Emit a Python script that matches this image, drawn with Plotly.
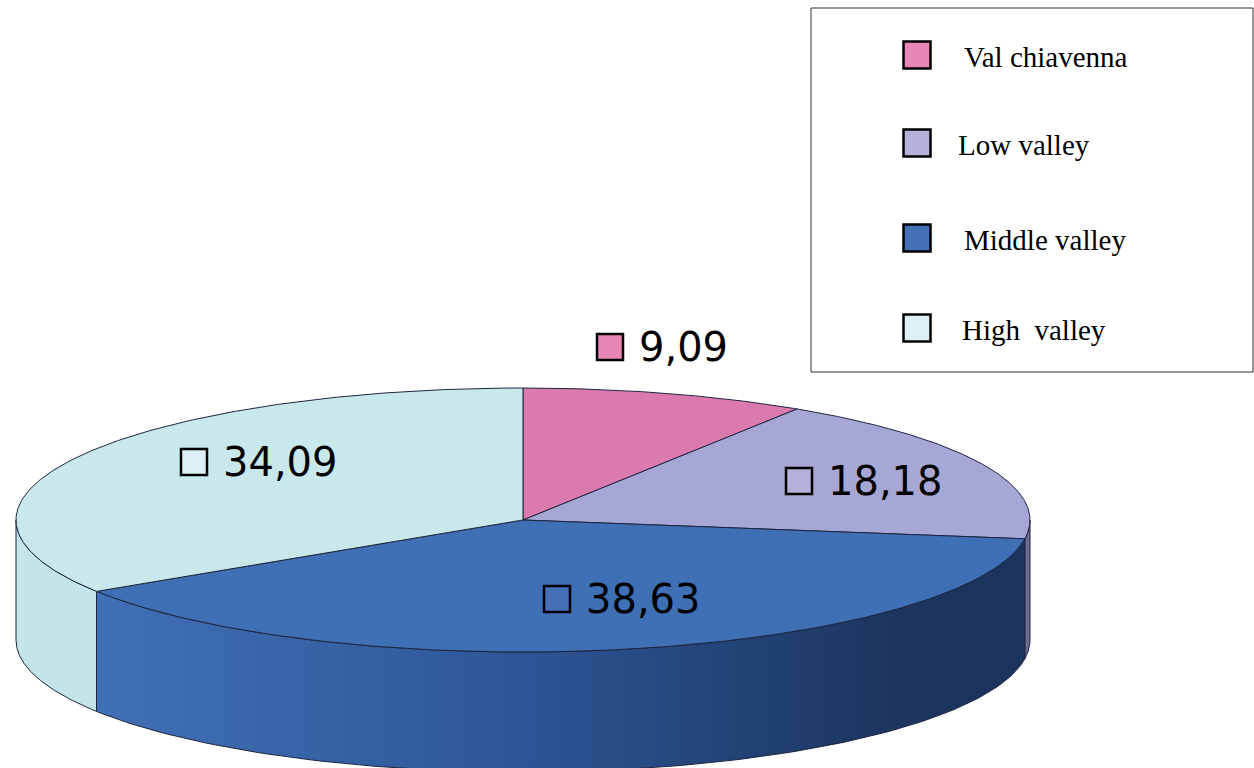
import numpy as np
import plotly.graph_objects as go

# ---- data ----
regions = ["Val chiavenna", "Low valley", "Middle valley", "High  valley"]
shares = [9.09, 18.18, 38.63, 34.09]
share_labels = ["9,09", "18,18", "38,63", "34,09"]

# ---- styling ----
top_colors = ["#db7aae", "#a6a7d4", "#3f6fb5", "#c8e8ec"]
key_colors = ["#e887b5", "#b3b3d9", "#4370b6", "#dbf1f5"]
side_colors = ["#b0608c", "#6d6b8f", "#3f6fb5", "#c3e5e9"]
edge = "#1d2540"

W, H = 1254, 768
cx, cy, rx, ry, depth = 523, 520, 507, 132, 120

# label anchor (square key centre) for each slice, in canvas units
label_pos = [(610, 347), (799, 481), (557, 599), (194, 462)]
# legend rows
legend_rows_y = [55, 143, 238, 328]
legend_text_x = [962, 956, 962, 960]


def ellipse(theta_deg, drop=0.0):
    t = np.radians(theta_deg)
    return cx + rx * np.sin(t), cy - ry * np.cos(t) + drop


total = sum(shares)
bounds = np.concatenate([[0], np.cumsum(shares)]) / total * 360.0

fig = go.Figure()

# side walls (front half of the cylinder, 90..270 deg clockwise from top)
for i, name in enumerate(regions):
    a0, a1 = bounds[i], bounds[i + 1]
    s, e = max(a0, 90.0), min(a1, 270.0)
    if s >= e:
        continue
    th = np.linspace(s, e, 120)
    xt, yt = ellipse(th)
    xb, yb = ellipse(th[::-1], depth)
    xs = np.concatenate([xt, xb, xt[:1]])
    ys = np.concatenate([yt, yb, yt[:1]])
    kw = dict(fill="toself", fillcolor=side_colors[i])
    if name == "Middle valley":
        kw["fillgradient"] = dict(
            type="horizontal",
            colorscale=[[0, "#4070b7"], [0.45, "#2d5697"], [0.85, "#1c3660"], [1, "#1b335d"]],
            start=float(xt.min()), stop=float(xt.max()),
        )
    fig.add_trace(go.Scatter(x=xs, y=ys, mode="lines",
                             line=dict(color=edge, width=1),
                             hoverinfo="skip", showlegend=False, **kw))

# top faces
for i, name in enumerate(regions):
    th = np.linspace(bounds[i], bounds[i + 1], 200)
    xa, ya = ellipse(th)
    xs = np.concatenate([[cx], xa, [cx]])
    ys = np.concatenate([[cy], ya, [cy]])
    fig.add_trace(go.Scatter(x=xs, y=ys, mode="lines", fill="toself",
                             fillcolor=top_colors[i],
                             line=dict(color=edge, width=1),
                             name=name, text=share_labels[i],
                             hoverinfo="name+text", showlegend=False))

# value labels: coloured key square + number
fig.add_trace(go.Scatter(
    x=[p[0] for p in label_pos], y=[p[1] for p in label_pos],
    mode="markers",
    marker=dict(symbol="square", size=26, color=key_colors,
                line=dict(color="black", width=2.5)),
    hoverinfo="skip", showlegend=False))
for (px, py), lab in zip(label_pos, share_labels):
    fig.add_annotation(x=px + 27, y=py, text=lab, showarrow=False,
                       xanchor="left", yanchor="middle",
                       font=dict(family="Comic Sans MS, DejaVu Sans", size=40, color="black"))

# legend box
fig.add_shape(type="rect", x0=811, y0=8, x1=1253, y1=372,
              line=dict(color="#333333", width=1), fillcolor="white", layer="below")
fig.add_trace(go.Scatter(
    x=[917] * len(regions), y=legend_rows_y, mode="markers",
    marker=dict(symbol="square", size=27, color=key_colors,
                line=dict(color="black", width=2.5)),
    hoverinfo="skip", showlegend=False))
for name, ly, lx in zip(regions, legend_rows_y, legend_text_x):
    fig.add_annotation(x=lx, y=ly + 2, text=name.replace("  ", "&nbsp; "), showarrow=False,
                       xanchor="left", yanchor="middle",
                       font=dict(family="Liberation Serif, Times New Roman", size=29, color="black"))

fig.update_layout(
    width=W, height=H,
    margin=dict(l=0, r=0, t=0, b=0),
    paper_bgcolor="white", plot_bgcolor="white",
    xaxis=dict(range=[0, W], visible=False, fixedrange=True),
    yaxis=dict(range=[H, 0], visible=False, fixedrange=True),
)

fig.write_html("out.html")
